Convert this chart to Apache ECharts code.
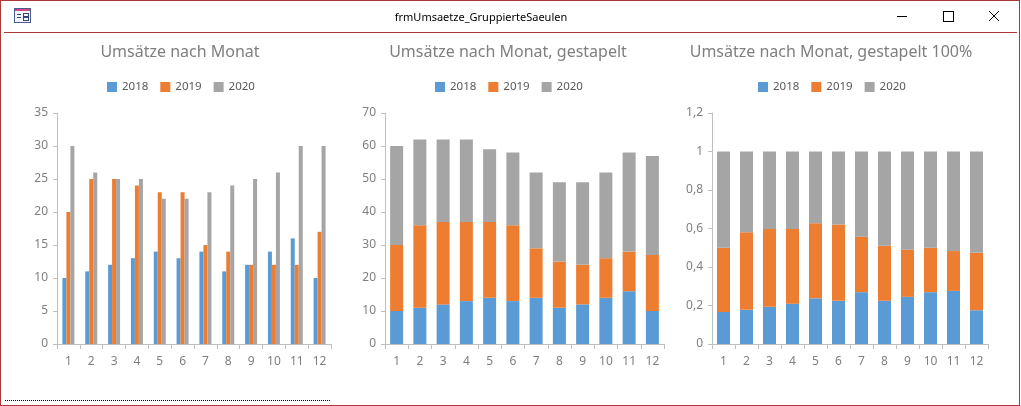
<!DOCTYPE html>
<html>
<head>
<meta charset="utf-8">
<script src="https://cdn.jsdelivr.net/npm/echarts@6/dist/echarts.min.js"></script>
<style>
    html, body { margin: 0; padding: 0; background: #fff; }
    #win { position: relative; width: 1021px; height: 406px; overflow: hidden; font-family: 'Noto Sans', 'Open Sans', sans-serif; }
    #chart { position: absolute; left: 0; top: 0; width: 1021px; height: 406px; }
    .frame { position: absolute; background: #a83a3a; }
    .caption { position: absolute; left: 0; top: 9px; width: 962px; text-align: center; font-size: 11px; color: #000; }
    .btn { position: absolute; }
    .dots { position: absolute; left: 5px; top: 400px; width: 325px; border-top: 1px dotted #000; }
</style>
</head>
<body>
<div id="win">
    <div id="chart"></div>
    <div class="frame" style="left:0;top:0;width:1020px;height:1px"></div>
    <div class="frame" style="left:0;top:0;width:1px;height:406px"></div>
    <div class="frame" style="left:1019px;top:0;width:1px;height:406px"></div>
    <div class="frame" style="left:0;top:405px;width:1020px;height:1px"></div>
    <div class="frame" style="left:4px;top:32px;width:1013px;height:1px"></div>
    <!-- form icon -->
    <div style="position:absolute;left:14px;top:8px;width:15px;height:13px;border:1px solid #4a5c8a;background:#f4f6fb;">
        <div style="position:absolute;left:0;top:0;width:15px;height:2px;background:#d04a8a;"></div>
        <div style="position:absolute;left:2px;top:5px;width:4px;height:1px;background:#33477a;"></div>
        <div style="position:absolute;left:2px;top:8px;width:4px;height:1px;background:#33477a;"></div>
        <div style="position:absolute;left:8px;top:4px;width:4px;height:2px;border:1px solid #33477a;"></div>
        <div style="position:absolute;left:8px;top:8px;width:4px;height:2px;border:1px solid #33477a;"></div>
    </div>
    <div class="caption">frmUmsaetze_GruppierteSaeulen</div>
    <div class="btn" style="left:897px;top:16px;width:10px;height:1px;background:#000;"></div>
    <div class="btn" style="left:943px;top:11px;width:9px;height:9px;border:1px solid #000;"></div>
    <svg class="btn" style="left:988px;top:10px" width="12" height="12"><path d="M1 1 L11 11 M11 1 L1 11" stroke="#000" stroke-width="1"/></svg>
    <div class="dots"></div>
</div>
<script>
    var months = ['1', '2', '3', '4', '5', '6', '7', '8', '9', '10', '11', '12'];
    var years = ['2018', '2019', '2020'];
    var sales2018 = [10, 11, 12, 13, 14, 13, 14, 11, 12, 14, 16, 10];
    var sales2019 = [20, 25, 25, 24, 23, 23, 15, 14, 12, 12, 12, 17];
    var sales2020 = [30, 26, 25, 25, 22, 22, 23, 24, 25, 26, 30, 30];
    var colors = ['#5b9bd5', '#ed7d31', '#a5a5a5'];
    var titles = ['Umsätze nach Monat', 'Umsätze nach Monat, gestapelt', 'Umsätze nach Monat, gestapelt 100%'];

    var allSales = [sales2018, sales2019, sales2020];
    // Anteile fuer das 100%-Diagramm
    var shares = allSales.map(function (s) {
        return s.map(function (v, i) {
            return v / (sales2018[i] + sales2019[i] + sales2020[i]);
        });
    });

    var grids = [
        {left: 57, top: 113, width: 274, height: 231},
        {left: 385, top: 113, width: 279, height: 231},
        {left: 712, top: 113, width: 276, height: 231}
    ];
    var centers = [175, 503, 826];
    var axisColor = '#bfbfbf';
    var labelColor = '#7f7f7f';
    var font = "'Noto Sans', 'Open Sans', sans-serif";

    var chart = echarts.init(document.getElementById('chart'), null, {renderer: 'canvas'});

    var xAxes = [], yAxes = [], series = [], legends = [], titleOpts = [];
    for (var g = 0; g < 3; g++) {
        titleOpts.push({
            text: titles[g],
            left: centers[g],
            top: 39,
            textAlign: 'center',
            textStyle: {fontSize: 16, fontWeight: 'normal', color: '#7f7f7f', fontFamily: font}
        });
        legends.push({
            data: years,
            left: centers[g] - 73,
            top: 76,
            itemWidth: 10,
            itemHeight: 10,
            itemGap: 12,
            icon: 'rect',
            textStyle: {fontSize: 11.5, color: '#595959', fontFamily: font}
        });
        xAxes.push({
            type: 'category',
            gridIndex: g,
            data: months,
            axisLine: {lineStyle: {color: axisColor}},
            axisTick: {show: true, length: 5, lineStyle: {color: axisColor}},
            axisLabel: {color: labelColor, fontSize: 12, margin: 12, fontFamily: font, interval: 0}
        });
    }
    var yMax = [35, 70, 1.2];
    var yStep = [5, 10, 0.2];
    for (g = 0; g < 3; g++) {
        yAxes.push({
            type: 'value',
            gridIndex: g,
            min: 0,
            max: yMax[g],
            interval: yStep[g],
            axisLine: {show: true, lineStyle: {color: axisColor}},
            axisTick: {show: true, length: 4, lineStyle: {color: axisColor}},
            splitLine: {show: false},
            axisLabel: {
                color: labelColor, fontSize: 12, margin: 9, fontFamily: font,
                formatter: function (v) {
                    return String(Math.round(v * 10) / 10).replace('.', ',');
                }
            }
        });
    }
    for (var k = 0; k < 3; k++) {
        series.push({
            name: years[k], type: 'bar', xAxisIndex: 0, yAxisIndex: 0,
            data: allSales[k], barWidth: 4, barGap: '0%',
            itemStyle: {color: colors[k]}
        });
        series.push({
            name: years[k], type: 'bar', xAxisIndex: 1, yAxisIndex: 1, stack: 'abs',
            data: allSales[k], barWidth: 13,
            itemStyle: {color: colors[k]}
        });
        series.push({
            name: years[k], type: 'bar', xAxisIndex: 2, yAxisIndex: 2, stack: 'pct',
            data: shares[k], barWidth: 13,
            itemStyle: {color: colors[k]}
        });
    }

    chart.setOption({
        animation: false,
        color: colors,
        title: titleOpts,
        legend: legends,
        grid: grids,
        xAxis: xAxes,
        yAxis: yAxes,
        series: series
    });
</script>
</body>
</html>
